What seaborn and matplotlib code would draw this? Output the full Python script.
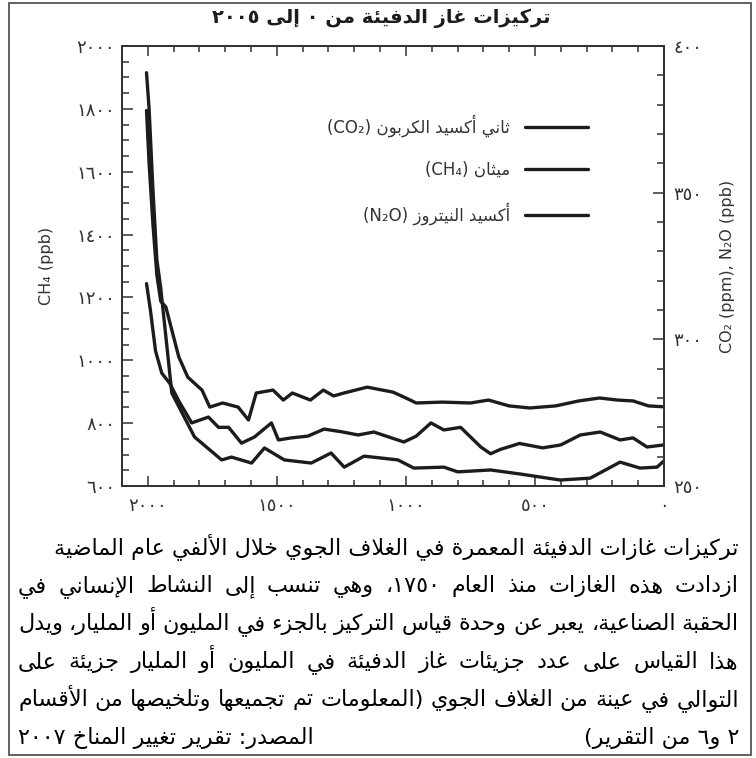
import matplotlib

matplotlib.use("Agg")
import matplotlib.pyplot as plt
from matplotlib.patches import Rectangle
from matplotlib.ticker import FuncFormatter, MultipleLocator
import seaborn as sns

# values (x = year, axis runs 2000 -> 0)
co2_years = [0, 60, 120, 180, 250, 330, 420, 520, 600, 680, 750, 860, 960, 1000,
             1050, 1150, 1240, 1280, 1320, 1370, 1440, 1475, 1515, 1580, 1610,
             1650, 1710, 1760, 1790, 1845, 1880, 1930, 1950, 1965, 1980, 1995, 2005]
co2_ppm = [277.0, 277.3, 279.0, 279.3, 280.0, 279.0, 277.3, 276.6, 277.3, 279.3,
           278.3, 278.6, 278.3, 280.0, 282.0, 283.7, 281.7, 280.7, 282.7, 279.3,
           281.7, 279.3, 282.7, 281.7, 272.5, 276.9, 278.3, 276.9, 282.7, 287.1,
           294.0, 311.0, 313.0, 322.0, 339.0, 360.0, 378.0]

n2o_years = [0, 66, 120, 170, 247, 324, 400, 470, 560, 633, 672, 710, 788, 853,
             903, 960, 1008, 1124, 1185, 1250, 1317, 1380, 1444, 1494, 1521, 1587,
             1637, 1687, 1726, 1765, 1830, 1880, 1915, 1946, 1970, 1990, 2005]
n2o_ppb = [264.0, 263.3, 266.4, 265.7, 268.4, 267.4, 264.0, 263.0, 264.5, 262.5,
           261.0, 263.3, 270.0, 269.1, 271.5, 267.0, 265.0, 268.4, 267.4, 268.5,
           269.4, 267.0, 266.4, 265.7, 271.5, 266.7, 264.6, 270.0, 270.0, 273.5,
           271.5, 279.0, 285.0, 288.5, 296.0, 310.0, 319.0]

ch4_years = [0, 27, 93, 170, 286, 402, 556, 672, 799, 853, 969, 1031, 1162, 1239,
             1290, 1367, 1471, 1548, 1598, 1676, 1714, 1819, 1907, 1934, 1950,
             1965, 1980, 1995, 2005]
ch4_ppb = [680, 660, 657, 676, 625, 619, 638, 651, 645, 660, 657, 683, 695, 660,
           705, 673, 683, 721, 673, 692, 683, 756, 896, 1106, 1230, 1320, 1540,
           1800, 1915]

title = "تركيزات غاز الدفيئة من ٠ إلى ٢٠٠٥"
legend_labels = ["ثاني أكسيد الكربون (CO₂)", "ميثان (CH₄)", "أكسيد النيتروز (N₂O)"]
caption = [
    "تركيزات غازات الدفيئة المعمرة في الغلاف الجوي خلال الألفي عام الماضية",
    "ازدادت هذه الغازات منذ العام ١٧٥٠، وهي تنسب إلى النشاط الإنساني في",
    "الحقبة الصناعية، يعبر عن وحدة قياس التركيز بالجزء في المليون أو المليار، ويدل",
    "هذا القياس على عدد جزيئات غاز الدفيئة في المليون أو المليار جزيئة على",
    "التوالي في عينة من الغلاف الجوي (المعلومات تم تجميعها وتلخيصها من الأقسام",
]
caption_end = "٢ و٦ من التقرير)"
source = "المصدر: تقرير تغيير المناخ ٢٠٠٧"

# --- minimal Arabic shaping + right-to-left ordering (no reshaper libs offline) ---
# letter -> (isolated presentation form, number of forms); 4 joins both sides, 2 only the previous
AR_FORMS = {
    "ء": (0xFE80, 1), "آ": (0xFE81, 2), "أ": (0xFE83, 2), "ؤ": (0xFE85, 2),
    "إ": (0xFE87, 2), "ئ": (0xFE89, 4), "ا": (0xFE8D, 2), "ب": (0xFE8F, 4),
    "ة": (0xFE93, 2), "ت": (0xFE95, 4), "ث": (0xFE99, 4), "ج": (0xFE9D, 4),
    "ح": (0xFEA1, 4), "خ": (0xFEA5, 4), "د": (0xFEA9, 2), "ذ": (0xFEAB, 2),
    "ر": (0xFEAD, 2), "ز": (0xFEAF, 2), "س": (0xFEB1, 4), "ش": (0xFEB5, 4),
    "ص": (0xFEB9, 4), "ض": (0xFEBD, 4), "ط": (0xFEC1, 4), "ظ": (0xFEC5, 4),
    "ع": (0xFEC9, 4), "غ": (0xFECD, 4), "ف": (0xFED1, 4), "ق": (0xFED5, 4),
    "ك": (0xFED9, 4), "ل": (0xFEDD, 4), "م": (0xFEE1, 4), "ن": (0xFEE5, 4),
    "ه": (0xFEE9, 4), "و": (0xFEED, 2), "ى": (0xFEEF, 2), "ي": (0xFEF1, 4),
    "ـ": (0x0640, 0),
}
LAM_ALEF = {"آ": 0xFEF5, "أ": 0xFEF7, "إ": 0xFEF9, "ا": 0xFEFB}
MIRROR = str.maketrans("()", ")(")


def shape(text):
    units = []
    i = 0
    while i < len(text):
        c = text[i]
        if c == "ل" and i + 1 < len(text) and text[i + 1] in LAM_ALEF:
            units.append((LAM_ALEF[text[i + 1]], 2))
            i += 2
            continue
        units.append(AR_FORMS.get(c, (c, None)))
        i += 1
    out = []
    for k, (base, n) in enumerate(units):
        if n is None:
            out.append(base)
            continue
        if n == 0:
            out.append(chr(base))
            continue
        prev = units[k - 1][1] if k > 0 else None
        nxt = units[k + 1][1] if k + 1 < len(units) else None
        link_prev = n >= 2 and prev in (4, 0)
        link_next = n == 4 and nxt in (0, 2, 4)
        if n == 4:
            off = 3 if (link_prev and link_next) else 2 if link_next else 1 if link_prev else 0
        elif n == 2:
            off = 1 if link_prev else 0
        else:
            off = 0
        out.append(chr(base + off))
    return "".join(out)


def is_ltr(ch):
    return (ch.isascii() and ch.isalnum()) or "\u0660" <= ch <= "\u0669" or "\u2080" <= ch <= "\u2089"


def ar(text):
    runs = []
    for ch in shape(text):
        ltr = is_ltr(ch)
        if runs and runs[-1][0] == ltr:
            runs[-1][1] += ch
        else:
            runs.append([ltr, ch])
    out = []
    for ltr, part in reversed(runs):
        out.append(part if ltr else part[::-1].translate(MIRROR))
    return "".join(out)


def ar_digits(v, _pos=None):
    return str(int(round(v))).translate(str.maketrans("0123456789", "٠١٢٣٤٥٦٧٨٩"))


W, H = 756, 758
INK = "#1c1c1c"
GREY = "#333333"

sns.set_style("ticks")
plt.rcParams["font.family"] = ["DejaVu Sans"]

fig = plt.figure(figsize=(W / 100, H / 100), dpi=100)
ax = fig.add_axes([122 / W, 1 - 486 / H, 542 / W, 440 / H])
ax2 = ax.twinx()

sns.lineplot(x=ch4_years, y=ch4_ppb, ax=ax, color=INK, linewidth=2.4)
ch4_line = ax.get_lines()[-1]
sns.lineplot(x=co2_years, y=co2_ppm, ax=ax2, color=INK, linewidth=2.4)
co2_line = ax2.get_lines()[-1]
sns.lineplot(x=n2o_years, y=n2o_ppb, ax=ax2, color=INK, linewidth=2.4)
n2o_line = ax2.get_lines()[-1]

ax.set_xlim(2100, 0)
ax.set_ylim(600, 2000)
ax2.set_ylim(250, 400)

ax.xaxis.set_major_locator(MultipleLocator(500))
ax.xaxis.set_minor_locator(MultipleLocator(100))
ax.yaxis.set_major_locator(MultipleLocator(200))
ax.yaxis.set_minor_locator(MultipleLocator(50))
ax2.yaxis.set_major_locator(MultipleLocator(50))
ax2.yaxis.set_minor_locator(MultipleLocator(10))
for axis in (ax.xaxis, ax.yaxis, ax2.yaxis):
    axis.set_major_formatter(FuncFormatter(ar_digits))

ax.tick_params(axis="both", which="both", direction="in", top=True, right=False,
               color=GREY, width=1.1, labelcolor=GREY, labelsize=13)
ax.tick_params(axis="y", which="major", length=8, pad=5)
ax.tick_params(axis="y", which="minor", length=5)
ax.tick_params(axis="x", which="major", length=7, pad=8)
ax.tick_params(axis="x", which="minor", length=4)
ax2.tick_params(axis="y", which="both", direction="in", color=GREY, width=1.1,
                labelcolor=GREY, labelsize=13, pad=7)
ax2.tick_params(axis="y", which="major", length=8)
ax2.tick_params(axis="y", which="minor", length=5)

for a in (ax, ax2):
    for sp in a.spines.values():
        sp.set_linewidth(1.4)
        sp.set_color(GREY)
    lg = a.get_legend()
    if lg:
        lg.remove()

ax.set_ylabel("CH₄ (ppb)", fontsize=11.5, color=GREY)
ax.yaxis.set_label_coords(-0.125, 0.5)
ax2.set_ylabel("CO₂ (ppm), N₂O (ppb)", fontsize=11.5, color=GREY)
ax2.yaxis.set_label_coords(1.103, 0.5)

ax2.legend(handles=[co2_line, ch4_line, n2o_line],
           labels=[ar(t) for t in legend_labels],
           loc="upper right", bbox_to_anchor=(0.86, 0.845), frameon=False,
           markerfirst=False, handlelength=3.8, handletextpad=0.9, labelspacing=1.45,
           fontsize=12, borderaxespad=0, borderpad=0, labelcolor=GREY)

fig.text(381 / W, 1 - 18 / H, ar(title), ha="center", va="center",
         fontsize=14, fontweight="bold", color=INK)

# caption block: heading right aligned, body lines justified between the margins
CAP_SIZE = 16
LEFT, RIGHT = 18, 739
renderer = fig.canvas.get_renderer()
baselines = [554, 592, 630, 668, 706, 744]


def cap(text, x, y, ha):
    return fig.text(x / W, 1 - y / H, text, ha=ha, va="baseline",
                    fontsize=CAP_SIZE, color="black")


cap(ar(caption[0]), RIGHT, baselines[0], "right")
for text, y in zip(caption[1:], baselines[1:5]):
    arts = [cap(w, 0, y, "left") for w in ar(text).split(" ")]
    widths = [t.get_window_extent(renderer).width for t in arts]
    gap = (RIGHT - LEFT - sum(widths)) / (len(arts) - 1)
    x = LEFT
    for t, wd in zip(arts, widths):
        t.set_x(x / W)
        x += wd + gap
cap(ar(caption_end), RIGHT, baselines[5], "right")
cap(ar(source), LEFT, baselines[5], "left")

fig.add_artist(Rectangle((9 / W, 3 / H), (751 - 9) / W, (755 - 3) / H,
                         transform=fig.transFigure, fill=False, lw=1.3, ec="#555555"))

fig.savefig("out.png", dpi=100)
plt.close(fig)
